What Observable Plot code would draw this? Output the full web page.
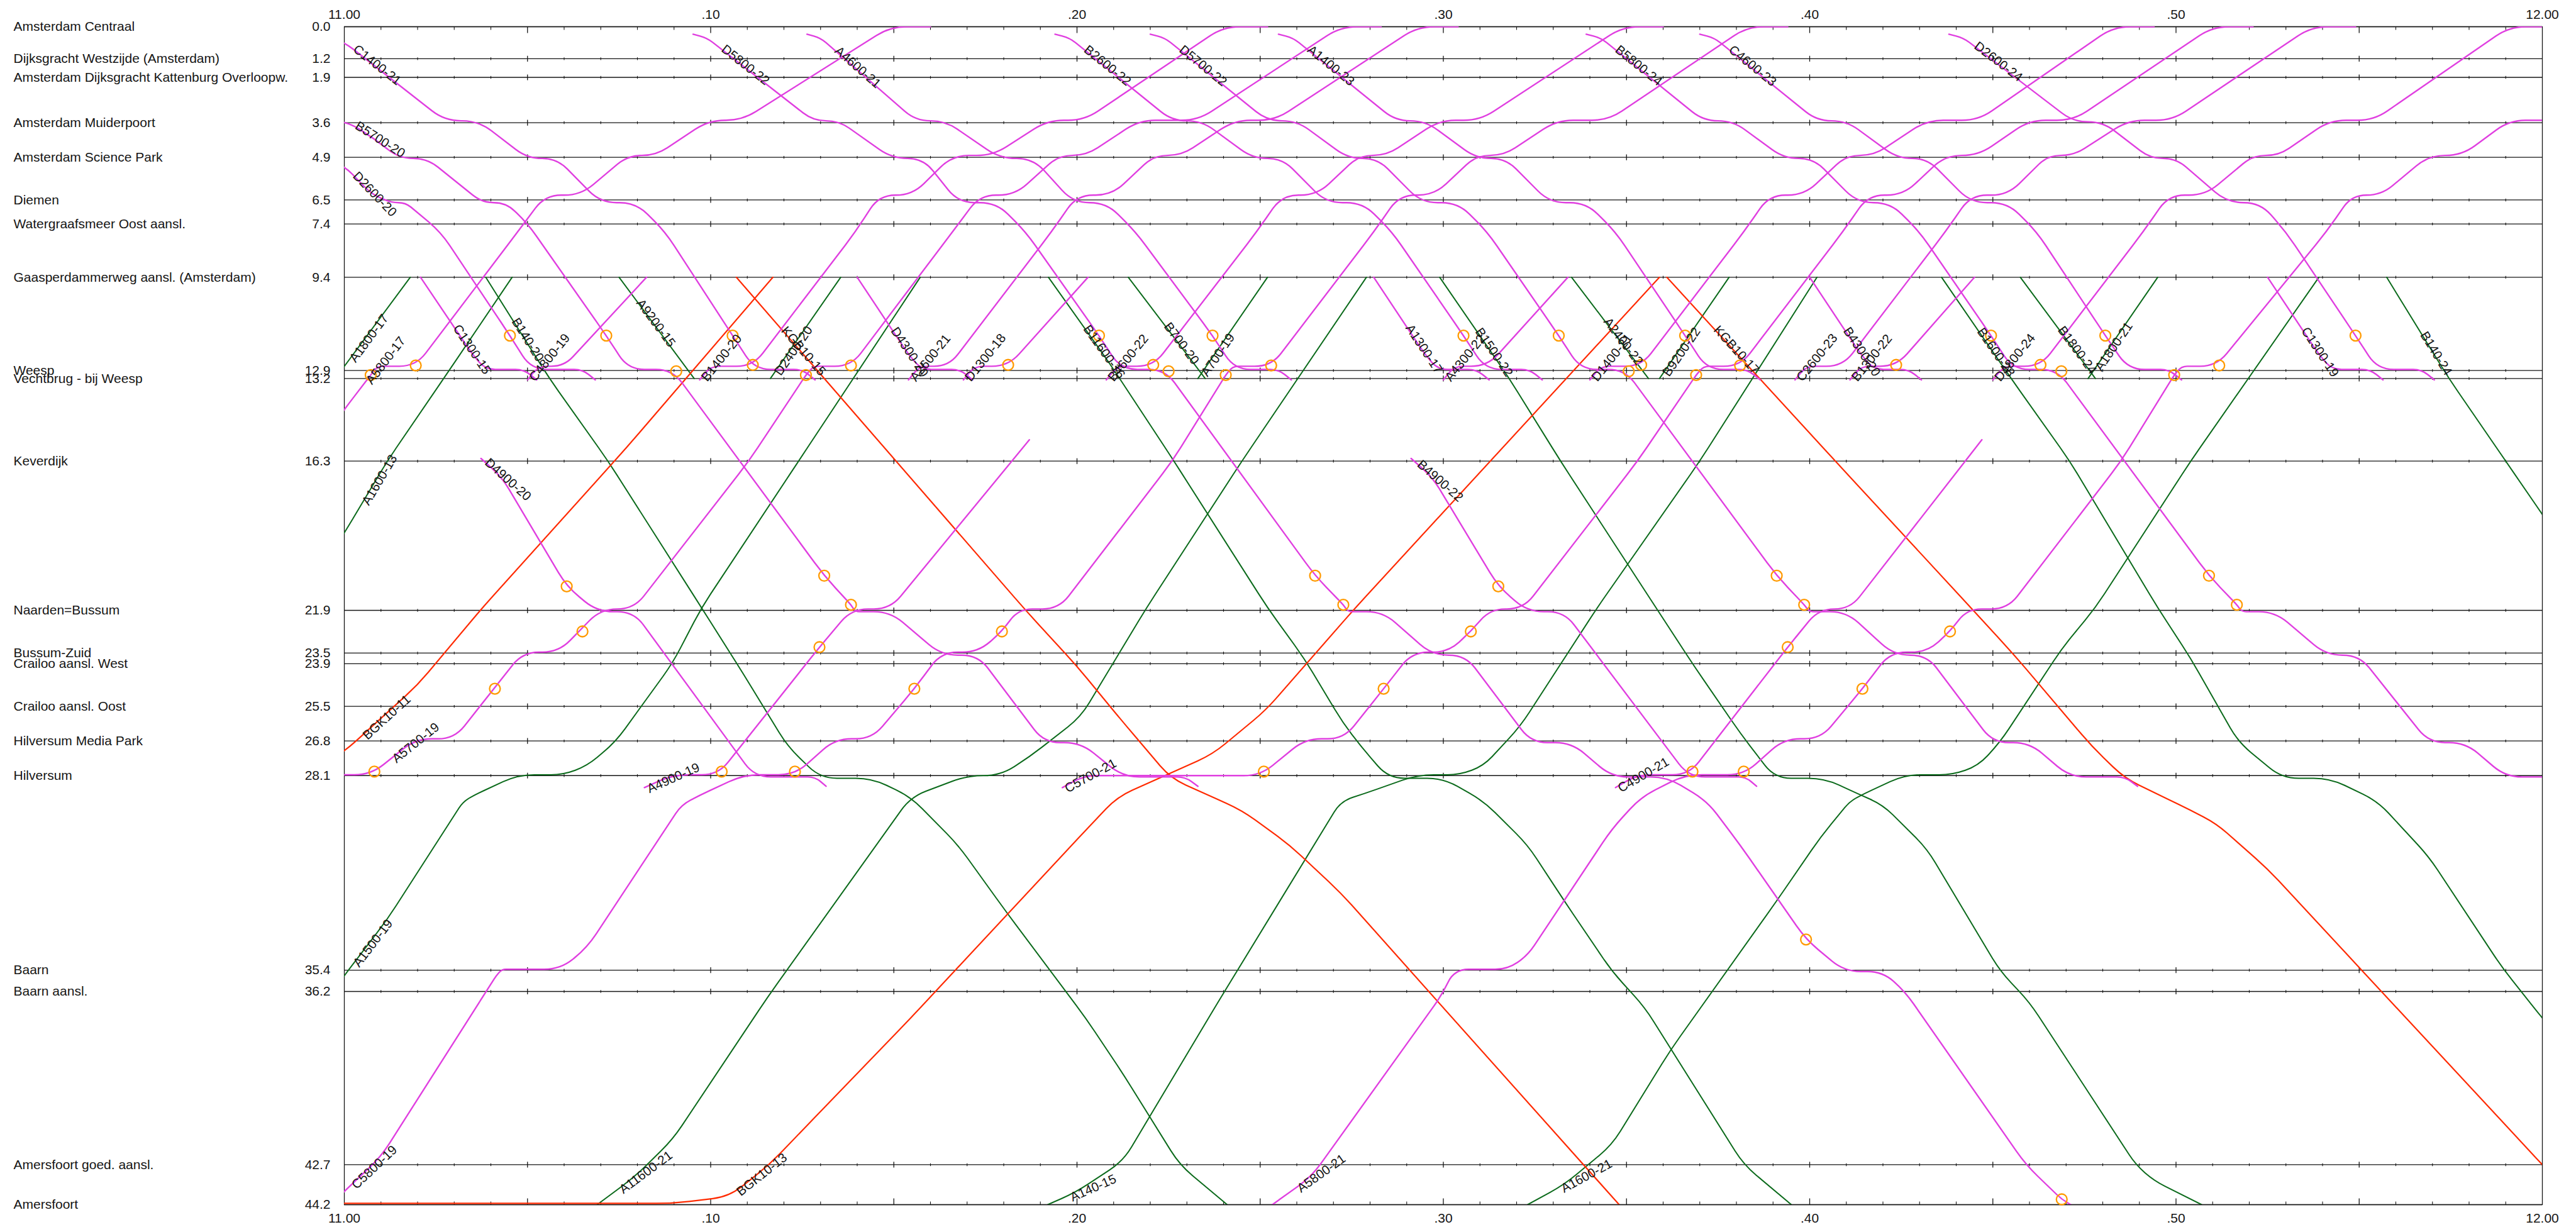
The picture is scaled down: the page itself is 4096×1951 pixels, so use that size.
<!DOCTYPE html>
<html>
<head>
<meta charset="utf-8">
<script src="https://cdn.jsdelivr.net/npm/d3@7"></script>
<script src="https://cdn.jsdelivr.net/npm/@observablehq/plot@0.6"></script>
<style>
  html, body { margin: 0; padding: 0; background: #fff; }
  #chart svg { display: block; }
</style>
</head>
<body>
<div id="chart"></div>
<script>
// Stations along the line Amsterdam – Amersfoort (km from Amsterdam Centraal)
const stationNames = [
  "Amsterdam Centraal", "Dijksgracht Westzijde (Amsterdam)", "Amsterdam Dijksgracht Kattenburg Overloopw.",
  "Amsterdam Muiderpoort", "Amsterdam Science Park", "Diemen", "Watergraafsmeer Oost aansl.",
  "Gaasperdammerweg aansl. (Amsterdam)", "Weesp", "Vechtbrug - bij Weesp", "Keverdijk", "Naarden=Bussum",
  "Bussum-Zuid", "Crailoo aansl. West", "Crailoo aansl. Oost", "Hilversum Media Park", "Hilversum",
  "Baarn", "Baarn aansl.", "Amersfoort goed. aansl.", "Amersfoort"
];
const stationKm = [0.0, 1.2, 1.9, 3.6, 4.9, 6.5, 7.4, 9.4, 12.9, 13.2, 16.3, 21.9, 23.5, 23.9, 25.5, 26.8, 28.1, 35.4, 36.2, 42.7, 44.2];

// Time axis: minutes after 11.00
const timeTicks = [0, 10, 20, 30, 40, 50, 60];
const timeTickLabels = ["11.00", ".10", ".20", ".30", ".40", ".50", "12.00"];

// Train paths: [train number, minute where the number is written, [[minute, km], ...]]
// Sprinters leaving Amsterdam Centraal
const sprintersDown = [
  ["D2600-20", 0.25, [[-0.6,4.94],[0,5.22],[0.75,6.29],[1.29,6.6],[1.67,6.6],[2.63,7.7],[4.52,11.59],[5.1,12.86],[6.5,12.86],[6.85,13.25]]],
  ["B5700-20", 0.3, [[-0.8,3.53],[0.05,3.53],[0.81,4.19],[1.5,4.94],[2.26,4.94],[3.76,6.6],[4.41,6.6],[5.0,7.38],[7.15,11.59],[7.75,12.86],[8.95,12.86],[13.1,20.6],[13.83,21.69],[13.95,21.95],[14.9,21.95],[16.3,23.58],[17.3,23.58],[19.1,26.86],[20.1,26.86],[21.26,28.15],[22.95,28.15],[23.3,28.5]]],
  ["C1400-21", 0.25, [[-0.6,0.3],[0,0.58],[2.74,3.53],[3.66,3.53],[5.0,4.94],[5.8,4.94],[6.99,6.6],[7.96,6.6],[8.76,7.7],[10.6,11.59],[11.2,12.86],[12.5,12.86],[12.85,13.25]]],
  ["D5800-22", 10.3, [[9.52,0.28],[9.9,0.42],[12.8,3.53],[13.5,3.53],[14.95,4.94],[15.8,4.94],[16.76,6.6],[17.8,6.6],[18.6,7.7],[20.6,11.59],[21.2,12.86],[22.4,12.86],[26.5,20.6],[27.27,21.69],[27.4,21.95],[28.35,21.95],[29.7,23.58],[30.6,23.58],[32.4,26.86],[33.5,26.86],[34.6,28.15],[36.1,28.15],[37.2,29.06],[38.1,30.7],[39.9,34.25],[40.95,35.45],[41.99,35.45],[42.6,36.2],[45.9,42.7],[46.88,44.0],[47.2,44.26]]],
  ["A4600-21", 13.4, [[12.63,0.28],[13.0,0.42],[15.6,3.53],[16.4,3.53],[17.9,4.94],[18.8,4.94],[19.9,6.6],[20.8,6.6],[21.6,7.7],[23.7,11.59],[24.3,12.86],[25.5,12.86],[25.85,13.25]]],
  ["B2600-22", 20.2, [[19.4,0.28],[19.8,0.42],[22.6,3.53],[23.4,3.53],[24.8,4.94],[25.6,4.94],[26.8,6.6],[27.8,6.6],[28.6,7.7],[30.55,11.59],[31.15,12.86],[32.35,12.86],[32.7,13.25]]],
  ["D5700-22", 22.8, [[22.0,0.28],[22.4,0.42],[25.2,3.53],[26.0,3.53],[27.4,4.94],[28.2,4.94],[29.4,6.6],[30.4,6.6],[31.2,7.7],[33.15,11.59],[33.75,12.86],[34.95,12.86],[39.1,20.6],[39.85,21.69],[40.0,21.95],[41.0,21.95],[42.3,23.58],[43.2,23.58],[45.0,26.86],[46.0,26.86],[47.1,28.15],[48.6,28.15],[48.95,28.5]]],
  ["A1400-23", 26.3, [[25.5,0.28],[25.9,0.42],[28.7,3.53],[29.5,3.53],[30.9,4.94],[31.7,4.94],[32.9,6.6],[33.9,6.6],[34.7,7.7],[36.6,11.59],[37.2,12.86],[38.3,12.86],[38.65,13.25]]],
  ["B5800-24", 34.7, [[33.9,0.28],[34.3,0.42],[37.1,3.53],[37.9,3.53],[39.3,4.94],[40.1,4.94],[41.3,6.6],[42.2,6.6],[43.0,7.7],[44.95,11.59],[45.55,12.86],[46.75,12.86],[50.9,20.6],[51.66,21.69],[51.8,21.95],[52.7,21.95],[54.1,23.58],[55.0,23.58],[56.9,26.86],[57.9,26.86],[59.0,28.15],[61,28.15]]],
  ["C4600-23", 37.8, [[37.0,0.28],[37.4,0.42],[40.2,3.53],[41.0,3.53],[42.4,4.94],[43.2,4.94],[44.4,6.6],[45.4,6.6],[46.2,7.7],[48.07,11.59],[48.7,12.86],[49.8,12.86],[50.15,13.25]]],
  ["D2600-24", 44.5, [[43.8,0.28],[44.2,0.42],[47.2,3.57],[48.0,3.57],[49.3,4.94],[50.0,4.94],[51.4,6.6],[52.3,6.6],[53.0,7.7],[54.9,11.59],[55.5,12.86],[56.7,12.86],[57.05,13.25]]]
];

// Sprinters running towards Amsterdam Centraal
const sprintersUp = [
  ["A5800-17", 0.6, [[-4.6,21.85],[-4.0,21.85],[0,14.36],[0.72,13.07],[0.9,12.74],[1.95,12.74],[4.73,7.7],[5.48,6.32],[6.45,6.32],[7.74,4.83],[8.5,4.83],[9.95,3.51],[10.86,3.51],[14.9,0],[16.0,0]]],
  ["B1400-20", 9.75, [[9.7,13.25],[10.0,12.74],[11.15,12.74],[13.95,7.7],[14.6,6.32],[15.5,6.32],[16.6,4.83],[17.7,4.83],[19.2,3.51],[20.2,3.51],[24.0,0],[25.2,0]]],
  ["A5700-19", 1.3, [[-2.0,28.5],[-1.5,28.07],[0.72,28.07],[1.95,26.72],[3.0,26.72],[4.87,23.47],[5.85,23.47],[7.0,21.85],[7.9,21.85],[11.04,16.3],[12.6,13.07],[12.8,12.74],[13.83,12.74],[16.6,7.7],[17.35,6.32],[18.3,6.32],[19.5,4.83],[20.25,4.83],[21.7,3.51],[23.3,3.51],[27.2,0],[28.3,0]]],
  ["A2600-21", 15.45, [[15.4,13.25],[15.7,12.74],[16.5,12.74],[19.3,7.7],[20.0,6.32],[20.95,6.32],[22.1,4.83],[22.85,4.83],[24.3,3.51],[25.4,3.51],[29.3,0],[30.4,0]]],
  ["B4600-22", 20.85, [[20.8,13.25],[21.1,12.74],[22.08,12.74],[24.9,7.7],[25.6,6.32],[26.55,6.32],[27.7,4.83],[28.45,4.83],[29.9,3.51],[31.0,3.51],[34.9,0],[36.0,0]]],
  ["C5800-19", 0.2, [[-0.4,44.26],[0,43.7],[1.0,42.4],[4.15,35.6],[4.3,35.37],[5.9,35.37],[6.63,34.55],[9.2,29.2],[9.7,28.84],[10.9,28.07],[12.3,28.07],[13.4,26.72],[14.4,26.72],[15.56,24.84],[16.3,23.47],[17.3,23.47],[17.95,22.69],[18.4,21.85],[19.5,21.85],[22.6,16.3],[24.06,13.07],[24.25,12.74],[25.3,12.74],[28.1,7.7],[28.8,6.32],[29.75,6.32],[30.9,4.83],[31.65,4.83],[33.1,3.51],[34.5,3.51],[38.3,0],[39.4,0]]],
  ["D1400-21", 34.05, [[34.0,13.25],[34.3,12.74],[35.4,12.74],[38.2,7.7],[38.9,6.32],[39.85,6.32],[41.0,4.83],[41.75,4.83],[43.2,3.51],[44.6,3.51],[48.3,0],[49.4,0]]],
  ["C5700-21", 19.65, [[19.6,28.55],[20.2,28.1],[25.0,28.1],[26.23,26.72],[27.28,26.72],[28.37,24.84],[29.15,23.47],[30.13,23.47],[30.75,22.69],[31.28,21.85],[32.18,21.85],[35.3,16.3],[36.9,13.07],[37.1,12.74],[38.1,12.74],[40.9,7.7],[41.6,6.32],[42.55,6.32],[43.7,4.83],[44.6,4.83],[46.0,3.51],[47.2,3.51],[51.0,0],[52.1,0]]],
  ["C2600-23", 39.65, [[39.6,13.25],[39.9,12.74],[40.9,12.74],[43.7,7.7],[44.4,6.32],[45.4,6.32],[46.5,4.83],[47.2,4.83],[48.7,3.51],[49.9,3.51],[53.7,0],[54.9,0]]],
  ["D4800-24", 45.05, [[45.0,13.25],[45.3,12.74],[46.3,12.74],[49.1,7.7],[49.8,6.32],[50.8,6.32],[52.1,4.83],[52.8,4.83],[54.2,3.51],[55.4,3.51],[59.1,0],[61,0]]],
  ["A5800-21", 26.0, [[25.27,44.26],[26.4,43.15],[29.96,36.33],[30.3,35.37],[31.75,35.37],[32.3,34.85],[34.6,30.1],[35.4,28.9],[36.6,28.07],[38.2,28.07],[39.3,26.72],[40.3,26.72],[41.44,24.84],[42.2,23.47],[43.2,23.47],[43.83,22.69],[44.3,21.85],[45.4,21.85],[48.5,16.3],[49.95,13.07],[50.15,12.74],[51.1,12.74],[54.1,7.7],[54.8,6.32],[55.6,6.32],[56.9,4.83],[57.8,4.83],[59.1,3.51],[61,3.51]]]
];

// Sprinters between Gaasperdammerweg (Amsterdam Zuid) and Weesp
const sprintersZuid = [
  ["C1300-15", 3.0, [[2.08,9.4],[3.5,12.3],[3.85,12.86],[4.9,12.86],[5.25,13.25]]],
  ["C4800-19", 5.05, [[5.0,13.25],[5.3,12.74],[6.0,12.74],[8.25,9.4]]],
  ["D4300-20", 14.95, [[14.0,9.4],[15.4,12.3],[15.75,12.86],[16.8,12.86],[17.15,13.25]]],
  ["D1300-18", 16.95, [[16.9,13.25],[17.2,12.74],[18.12,12.74],[20.3,9.4]]],
  ["A1300-17", 29.0, [[28.1,9.4],[29.5,12.3],[29.85,12.86],[30.9,12.86],[31.25,13.25]]],
  ["A4300-22", 30.05, [[30.0,13.25],[30.3,12.74],[31.2,12.74],[33.4,9.4]]],
  ["B4300-20", 40.95, [[40.0,9.4],[41.4,12.3],[41.75,12.86],[42.7,12.86],[43.05,13.25]]],
  ["B1300-22", 41.15, [[41.1,13.25],[41.4,12.74],[42.36,12.74],[44.5,9.4]]],
  ["C1300-19", 53.45, [[52.5,9.4],[53.9,12.3],[54.25,12.86],[55.3,12.86],[55.65,13.25]]]
];

// Sprinters over the Gooiboog (Keverdijk) to and from Hilversum
const sprintersGooi = [
  ["D4900-20", 3.85, [[3.73,16.2],[4.3,16.9],[6.07,21.0],[6.9,21.95],[7.9,21.95],[11.2,28.15],[12.85,28.15],[13.15,28.5]]],
  ["A4900-19", 8.25, [[8.19,28.55],[8.97,28.07],[10.2,28.07],[12.97,23.28],[13.85,21.85],[14.9,21.85],[18.7,15.5]]],
  ["B4900-22", 29.3, [[29.12,16.2],[29.7,16.9],[31.5,21.0],[32.3,21.95],[33.3,21.95],[36.7,28.15],[38.25,28.15],[38.55,28.5]]],
  ["C4900-21", 34.75, [[34.7,28.55],[35.3,28.07],[36.7,28.07],[39.4,23.28],[40.25,21.85],[41.1,21.85],[44.7,15.5]]]
];

const intercities = [
  ["A1600-13", 0.5, [[-6,28.07],[-4.6,27.7],[-1.4,21.9],[0,19.0],[1.17,16.3],[2.86,12.9],[4.58,9.4]]],
  ["A1800-17", 0.15, [[-0.3,13.3],[1.8,9.4]]],
  ["B140-20", 4.6, [[3.86,9.4],[5.6,13.2],[7.2,16.3],[9.75,21.8],[10.9,24.3],[12.1,27.0],[13.0,28.2],[14.4,28.2],[15.46,28.9],[16.75,30.7],[18.06,33.2],[20.24,37.2],[21.26,39.3],[22.8,42.7],[24.1,44.2]]],
  ["A9200-15", 8.0, [[7.5,9.4],[9.55,13.2]]],
  ["D2400-20", 11.75, [[11.63,13.2],[13.55,9.4]]],
  ["A1500-19", 0.25, [[-4.5,44.2],[0,35.6],[1.17,33.5],[3.25,29.06],[3.64,28.77],[4.74,28.07],[5.98,28.07],[6.63,27.73],[7.4,26.84],[8.96,23.88],[9.75,21.8],[12.4,16.3],[15.72,9.4]]],
  ["A11600-21", 7.5, [[6.9,44.2],[7.93,43.15],[8.97,41.74],[11.56,36.4],[15.46,28.9],[17.0,28.1],[17.9,28.1],[18.7,27.4],[20.1,25.9],[21.9,21.8],[24.5,16.3],[27.9,9.4]]],
  ["B11600-16", 20.2, [[19.22,9.4],[20.9,12.65],[22.6,16.2],[25.2,21.8],[26.2,23.7],[27.25,26.1],[27.75,27.0],[28.5,28.2],[30.0,28.2],[31.1,29.06],[32.3,30.7],[33.3,32.8],[34.6,35.44],[35.5,36.8],[38.2,42.7],[39.5,44.2]]],
  ["B700-20", 22.4, [[21.4,9.4],[23.5,13.2]]],
  ["A700-19", 23.4, [[23.3,13.2],[25.2,9.4]]],
  ["B1500-22", 30.9, [[29.9,9.4],[31.8,13.2],[33.2,16.3],[35.9,22.0],[36.85,24.0],[38.1,26.5],[39.05,28.2],[40.4,28.2],[41.3,28.77],[42.0,29.2],[43.2,30.84],[45.2,35.44],[46.0,36.6],[48.9,42.7],[49.4,43.3],[50.7,44.2]]],
  ["A140-15", 19.8, [[19.2,44.2],[19.96,43.74],[21.26,42.56],[23.85,36.6],[27.2,29.06],[27.86,28.77],[29.3,28.07],[30.45,28.07],[31.1,27.73],[32.1,26.25],[34.2,21.8],[37,16.3],[40.2,9.4]]],
  ["A2400-22", 34.4, [[33.5,9.4],[35.6,13.2]]],
  ["B9200-22", 36.0, [[35.9,13.2],[37.8,9.4]]],
  ["A1600-21", 33.2, [[32.3,44.2],[33.3,43.45],[34.6,41.96],[36.2,38.4],[39.1,32.8],[40.3,30.4],[41.1,29.06],[41.5,28.77],[42.6,28.07],[43.9,28.07],[44.6,27.73],[45.2,26.84],[46.9,23.3],[47.8,21.8],[50.4,16.3],[53.9,9.4]]],
  ["B1600-28", 44.6, [[43.6,9.4],[45.5,13.2],[47.1,16.3],[49.5,21.8],[50.4,23.7],[51.7,26.84],[52.9,28.2],[54.2,28.2],[55.5,29.06],[56.9,31.14],[58.9,35.3],[60,37.2],[62,40.5]]],
  ["B1800-24", 46.8, [[45.75,9.4],[47.8,13.2]]],
  ["A1800-21", 47.8, [[47.6,13.2],[49.5,9.4]]],
  ["B140-24", 56.7, [[55.75,9.4],[57.45,13.2],[59,16.3],[60,18.3],[61,20.3]]]
];

const freights = [
  ["BGK10-11", 0.5, [[-2.5,28.6],[-1,28.0],[0,27.2],[2,24.7],[3.77,21.8],[7.7,15.8],[11.7,9.4]]],
  ["BGK10-13", 10.7, [[-2,44.15],[8.97,44.15],[10.5,43.9],[11.6,42.7],[12.86,40.9],[15.46,37.2],[20.0,30.5],[21.1,28.9],[23.7,27.3],[25.15,25.65],[27.6,21.8],[35.9,9.4]]],
  ["KGB10-15", 11.95, [[10.7,9.4],[18.6,21.9],[20,24.0],[21.26,26.1],[22.56,28.2],[24.5,29.4],[25.8,30.7],[27.2,32.5],[34.8,44.2]]],
  ["KGB10-17", 37.4, [[36.1,9.4],[40.7,16.3],[44.4,21.8],[45.6,23.6],[47.7,27.0],[48.6,28.2],[50.4,29.4],[51.1,29.9],[52.5,31.6],[55,35.3],[60,42.7],[61,44.2]]]
];

// Timing points drawn as open circles [minute, km]
const markers = [
  [0.72,13.07],[1.95,12.71],[4.52,11.59],[7.15,11.59],[9.06,12.93],[10.6,11.59],[11.15,12.69],[12.6,13.07],[13.83,12.71],[18.12,12.69],
  [6.07,21.0],[13.1,20.6],[13.83,21.69],
  [20.6,11.59],[22.08,12.69],[22.5,12.93],[23.7,11.59],[24.06,13.07],[25.3,12.71],[30.55,11.59],[33.15,11.59],[35.06,12.93],[35.4,12.69],[36.6,11.59],[36.9,13.07],[38.1,12.71],
  [26.5,20.6],[27.27,21.69],[31.5,21.0],[39.1,20.6],[39.85,21.69],
  [42.36,12.69],[44.95,11.59],[46.3,12.69],[46.87,12.93],[48.07,11.59],[49.95,13.07],[51.18,12.71],[54.9,11.59],
  [50.9,20.6],[51.66,21.69],
  [0.82,27.95],[4.11,24.84],[6.5,22.69],[10.3,27.95],[12.3,27.95],[12.97,23.28],[15.56,24.84],[17.95,22.69],
  [25.1,27.95],[28.37,24.84],[30.75,22.69],[36.8,27.95],[38.2,27.95],[39.4,23.28],[39.9,34.25],
  [41.44,24.84],[43.83,22.69],[46.88,44.0]
];

// ---- layout ----
const W = 4096, H = 1951;
const M = {left: 547, right: 54, top: 42, bottom: 36};
const pxPerMin = (W - M.left - M.right) / 60;
const pxPerKm = (H - M.top - M.bottom) / 44.2;

const sprinters = [...sprintersDown, ...sprintersUp, ...sprintersZuid, ...sprintersGooi];

function rows(trains, group) {
  const out = [];
  trains.forEach(([id, , pts], i) => pts.forEach(([t, km]) => out.push({id: group + i, t, km})));
  return out;
}

// straight running with rounded transitions at every timing point
function roundedCurve(radius) {
  return function(context) {
    let pts;
    return {
      areaStart() {}, areaEnd() {},
      lineStart() { pts = []; },
      point(x, y) { pts.push([+x, +y]); },
      lineEnd() {
        const n = pts.length;
        if (!n) return;
        context.moveTo(pts[0][0], pts[0][1]);
        for (let i = 1; i < n - 1; i++) {
          const [x0, y0] = pts[i - 1], [x1, y1] = pts[i], [x2, y2] = pts[i + 1];
          const l1 = Math.hypot(x1 - x0, y1 - y0), l2 = Math.hypot(x2 - x1, y2 - y1);
          if (!l1 || !l2) { context.lineTo(x1, y1); continue; }
          const r = Math.min(radius, l1 / 2, l2 / 2);
          context.lineTo(x1 + (x0 - x1) * r / l1, y1 + (y0 - y1) * r / l1);
          context.quadraticCurveTo(x1, y1, x1 + (x2 - x1) * r / l2, y1 + (y2 - y1) * r / l2);
        }
        if (n > 1) context.lineTo(pts[n - 1][0], pts[n - 1][1]);
      }
    };
  };
}
const runCurve = roundedCurve(26);

// number written along the path, rotated with the local direction of travel
function labels(trains) {
  const out = [];
  for (const [id, at, pts] of trains) {
    if (!id || at == null) continue;
    let j = 0;
    while (j < pts.length - 2 && pts[j + 1][0] < at) j++;
    const [t1, k1] = pts[j], [t2, k2] = pts[j + 1];
    const f = (at - t1) / (t2 - t1);
    const km = k1 + f * (k2 - k1);
    const dxp = (t2 - t1) * pxPerMin, dyp = (k2 - k1) * pxPerKm;
    const ang = Math.atan2(dyp, dxp) * 180 / Math.PI;
    const len = Math.hypot(dxp, dyp);
    const off = 3;
    const nx = dyp / len, ny = -dxp / len;
    const down = ang > 0;
    const ox = (down ? -nx : nx) * off, oy = (down ? -ny : ny) * off;
    out.push({text: id, t: at + ox / pxPerMin, km: km + oy / pxPerKm, ang, down});
  }
  return out;
}

const lab = labels([...sprinters, ...intercities, ...freights]);

const minuteTicks = d3.range(1, 60);
const innerKm = stationKm.slice(1, -1);
const tickRows = (kms, filt) => kms.flatMap(km => minuteTicks.filter(filt).map(t => ({t, km})));

const vTick = (up, down) => ({
  draw(ctx, size) {
    const r = Math.sqrt(size / Math.PI);
    ctx.moveTo(0, -r * up);
    ctx.lineTo(0, r * down);
  }
});

const ink = "#151515";
const fontFamily = "'Liberation Sans', Arial, Helvetica, sans-serif";

const plot = Plot.plot({
  width: W,
  height: H,
  marginLeft: M.left, marginRight: M.right, marginTop: M.top, marginBottom: M.bottom,
  style: {fontFamily, fontSize: "21px", color: ink, background: "#fff"},
  x: {domain: [0, 60], axis: null},
  y: {domain: [0, 44.2], reverse: true, axis: null},
  marks: [
    Plot.ruleY(stationKm, {y: d => d, stroke: ink, strokeWidth: 1.3}),
    Plot.frame({stroke: ink, strokeWidth: 1.3}),
    // minute ticks on every station line
    Plot.dot(tickRows(innerKm, m => m % 5 !== 0), {x: "t", y: "km", r: 2.2, symbol: vTick(1, 1), stroke: ink, strokeWidth: 1.1, fill: "none"}),
    Plot.dot(tickRows(innerKm, m => m % 5 === 0), {x: "t", y: "km", r: 4.6, symbol: vTick(1, 1), stroke: ink, strokeWidth: 1.3, fill: "none"}),
    Plot.dot(tickRows([0], m => m % 5 !== 0), {x: "t", y: "km", r: 5, symbol: vTick(0, 1), stroke: ink, strokeWidth: 1.1, fill: "none"}),
    Plot.dot(tickRows([0], m => m % 5 === 0), {x: "t", y: "km", r: 10, symbol: vTick(0, 1), stroke: ink, strokeWidth: 1.3, fill: "none"}),
    Plot.dot(tickRows([44.2], m => m % 5 !== 0), {x: "t", y: "km", r: 5, symbol: vTick(1, 0), stroke: ink, strokeWidth: 1.1, fill: "none"}),
    Plot.dot(tickRows([44.2], m => m % 5 === 0), {x: "t", y: "km", r: 10, symbol: vTick(1, 0), stroke: ink, strokeWidth: 1.3, fill: "none"}),
    // train paths
    Plot.line(rows(intercities, "ic"), {x: "t", y: "km", z: "id", stroke: "#0b6a1b", strokeWidth: 2.0, curve: runCurve, clip: true}),
    Plot.line(rows(freights, "fr"), {x: "t", y: "km", z: "id", stroke: "#ff2a00", strokeWidth: 2.2, curve: runCurve, clip: true}),
    Plot.line(rows(sprinters, "sp"), {x: "t", y: "km", z: "id", stroke: "#e03fe0", strokeWidth: 2.4, curve: runCurve, clip: true}),
    Plot.dot(markers, {x: d => d[0], y: d => d[1], r: 8.5, stroke: "#ff9a00", strokeWidth: 2.3, fill: "none"}),
    // train numbers along the paths
    Plot.text(lab.filter(d => d.down), {x: "t", y: "km", text: "text", rotate: "ang", textAnchor: "start", lineAnchor: "bottom", fontSize: 20.5, fill: ink}),
    Plot.text(lab.filter(d => !d.down), {x: "t", y: "km", text: "text", rotate: "ang", textAnchor: "start", lineAnchor: "top", fontSize: 20.5, fill: ink}),
    // station names and distances
    Plot.text(stationKm, {y: d => d, text: (d, i) => stationNames[i], frameAnchor: "left", dx: -(M.left - 21), textAnchor: "start", fill: ink}),
    Plot.text(stationKm, {y: d => d, text: d => d.toFixed(1), frameAnchor: "left", dx: -22, textAnchor: "end", fill: ink}),
    // time labels above and below
    Plot.text(timeTicks, {x: d => d, text: (d, i) => timeTickLabels[i], frameAnchor: "top", dy: -13, lineAnchor: "bottom", fill: ink}),
    Plot.text(timeTicks, {x: d => d, text: (d, i) => timeTickLabels[i], frameAnchor: "bottom", dy: 14, lineAnchor: "top", fill: ink})
  ]
});

document.getElementById("chart").appendChild(plot);
</script>
</body>
</html>
